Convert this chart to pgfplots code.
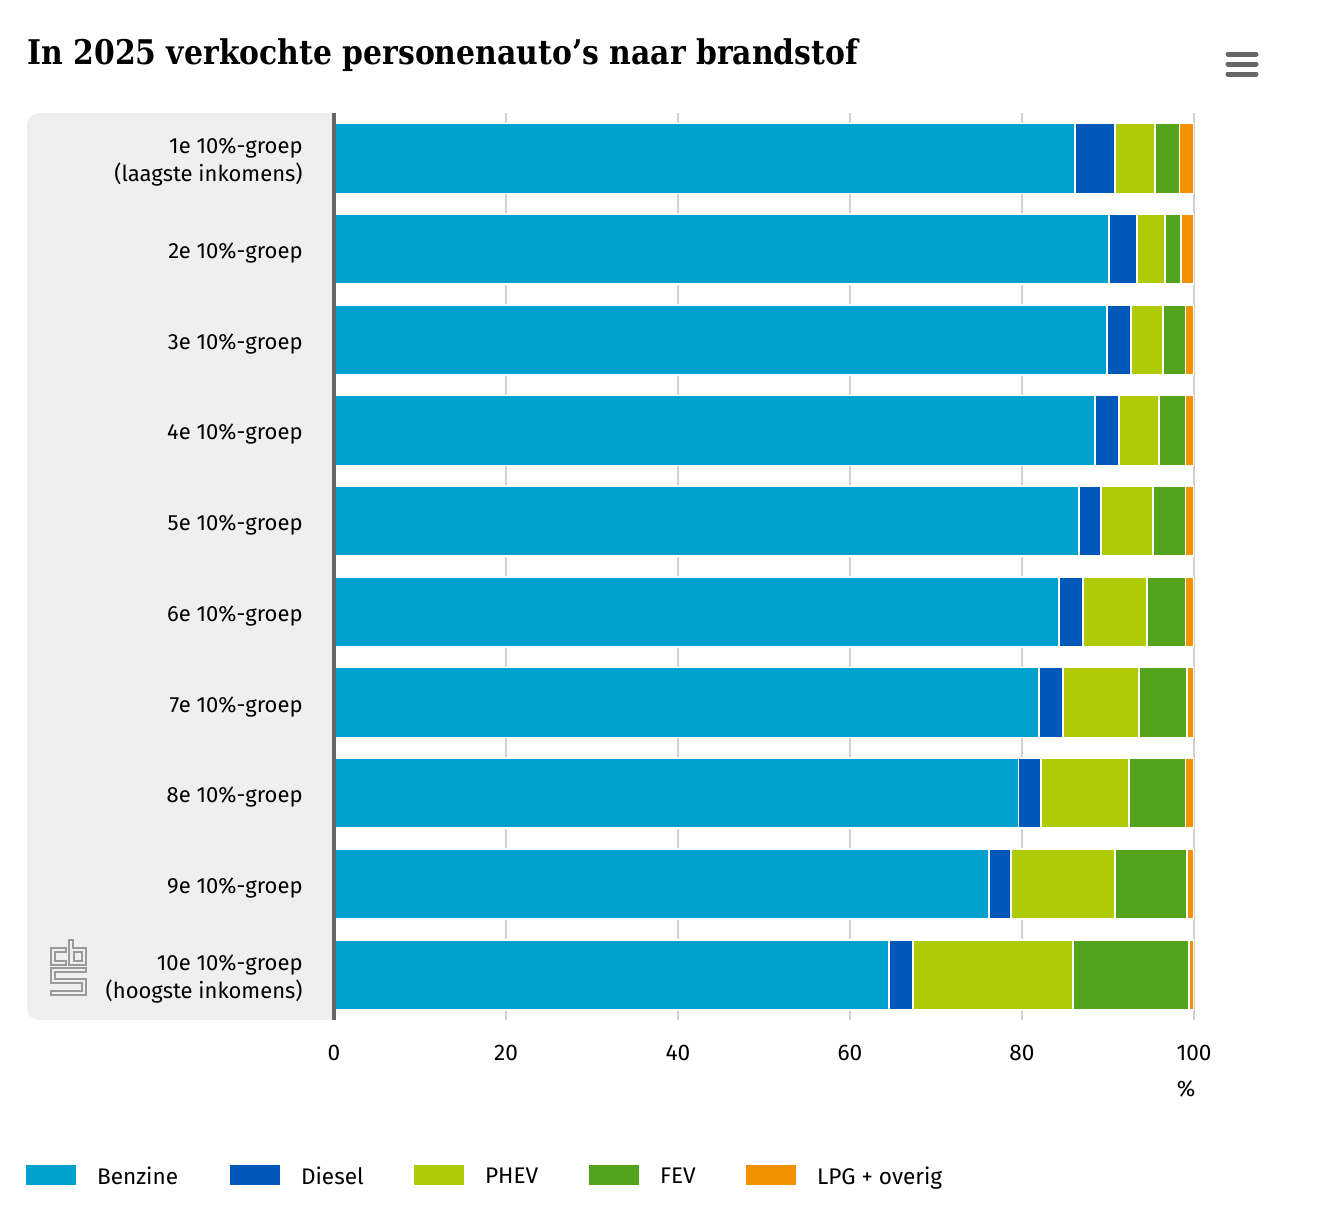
\documentclass[border=0pt]{standalone}
\usepackage{fontspec}
\usepackage{pgfplots}
\pgfplotsset{compat=1.18}
\usepackage{pgfplotstable}
\setmainfont{Fira Sans}
\newfontfamily\titlefont{DejaVu Serif}
\definecolor{benz}{HTML}{00A1CD}
\definecolor{dies}{HTML}{0058B8}
\definecolor{phev}{HTML}{AFCB05}
\definecolor{fev}{HTML}{53A31D}
\definecolor{lpg}{HTML}{F39200}
\definecolor{panel}{HTML}{EFEFEF}
\definecolor{axisgray}{HTML}{666666}
\definecolor{logogray}{HTML}{9A9A9A}

\pgfplotstableread{
g B D P F L
1 86.2 4.6 4.7 2.8 1.7
2 90.1 3.3 3.2 1.9 1.5
3 89.9 2.8 3.7 2.6 1.0
4 88.5 2.8 4.6 3.1 1.0
5 86.6 2.6 6.0 3.8 1.0
6 84.3 2.8 7.4 4.5 1.0
7 82.0 2.8 8.8 5.6 0.8
8 79.6 2.6 10.2 6.6 1.0
9 76.2 2.5 12.1 8.4 0.8
10 64.5 2.8 18.6 13.5 0.6
}\datatable

\begin{document}
\begin{tikzpicture}
\begin{scope}[x=0.5pt,y=-0.5pt]
\path[use as bounding box] (0,0) rectangle (1332,1216);
\node[anchor=base west, inner sep=0pt, font=\titlefont\bfseries\fontsize{17}{20}\selectfont] at (27,64) {\scalebox{0.878}[1]{In 2025 verkochte personenauto’s naar brandstof}};
\fill[panel, rounded corners=6pt] (27,113) rectangle (334,1020);
\fill[panel] (300,113) rectangle (334,1020);
% menu icon
\draw[axisgray, line width=2.5pt, line cap=round] (1228,54) -- (1256,54);
\draw[axisgray, line width=2.5pt, line cap=round] (1228,64) -- (1256,64);
\draw[axisgray, line width=2.5pt, line cap=round] (1228,74) -- (1256,74);
% logo
\begin{scope}[logogray, line width=0.75pt]
\draw (66,948) -- (51,948) -- (51,965) -- (66,965) -- (66,961) -- (55,961) -- (55,952) -- (66,952) -- cycle;
\draw (69,940) -- (73,940) -- (73,948) -- (86,948) -- (86,965) -- (69,965) -- cycle;
\draw (74,952) rectangle (82,961);
\draw (86,968) -- (51,968) -- (51,983) -- (82,983) -- (82,991) -- (51,991) -- (51,995) -- (86,995) -- (86,979) -- (55,979) -- (55,972) -- (86,972) -- cycle;
\end{scope}
\node[font=\fontsize{11.2}{13}\selectfont, inner sep=0pt] at (1186,1089) {\%};
\end{scope}
\begin{axis}[
  xbar stacked,
  bar width=35pt,
  scale only axis,
  width=430pt, height=453.5pt,
  at={(167pt,-56.5pt)}, anchor=north west,
  xmin=0, xmax=100, ymin=0.5, ymax=10.5,
  y dir=reverse,
  ytick={1,...,10},
  yticklabels={{1e 10\%-groep\\(laagste inkomens)},2e 10\%-groep,3e 10\%-groep,4e 10\%-groep,5e 10\%-groep,6e 10\%-groep,7e 10\%-groep,8e 10\%-groep,9e 10\%-groep,{10e 10\%-groep\\(hoogste inkomens)}},
  xtick={0,20,...,100},
  axis line style={draw=none},
  major tick length=0pt,
  xmajorgrids,
  grid style={line width=0.75pt, color=black!18},
  yticklabel style={align=right, inner sep=0pt, xshift=-15.5pt, yshift=-2pt, font=\fontsize{11}{14}\selectfont},
  xticklabel style={inner sep=0pt, anchor=north, yshift=-12.5pt, font=\fontsize{11.3}{14}\selectfont},
  /pgf/number format/assume math mode=true,
  every axis plot/.append style={draw=white, line width=0.85pt},
  legend style={at={(axis description cs:-0.3581,-0.172)}, anchor=west, draw=none, fill=none, inner sep=0pt, outer sep=0pt,
    font=\fontsize{11.3}{13}\selectfont, nodes={inner sep=0pt},
    /tikz/every odd column/.append style={column sep=10.5pt}},
  legend columns=5,
  legend cell align=left,
  legend image code/.code={\fill[#1, draw=none] (0pt,-4pt) rectangle (25pt,6pt);},
]
\addplot[fill=benz] table[x=B, y=g] {\datatable};
\addplot[fill=dies] table[x=D, y=g] {\datatable};
\addplot[fill=phev] table[x=P, y=g] {\datatable};
\addplot[fill=fev] table[x=F, y=g] {\datatable};
\addplot[fill=lpg] table[x=L, y=g] {\datatable};
\addlegendentry{\makebox[66.5pt][l]{Benzine}}
\addlegendentry{\makebox[56.5pt][l]{Diesel}}
\addlegendentry{\makebox[52pt][l]{PHEV}}
\addlegendentry{\makebox[43pt][l]{FEV}}
\addlegendentry{LPG + overig}
\end{axis}
\begin{scope}[x=0.5pt,y=-0.5pt]
\draw[axisgray, line width=2pt] (334,113) -- (334,1020);
\end{scope}
\end{tikzpicture}
\end{document}
